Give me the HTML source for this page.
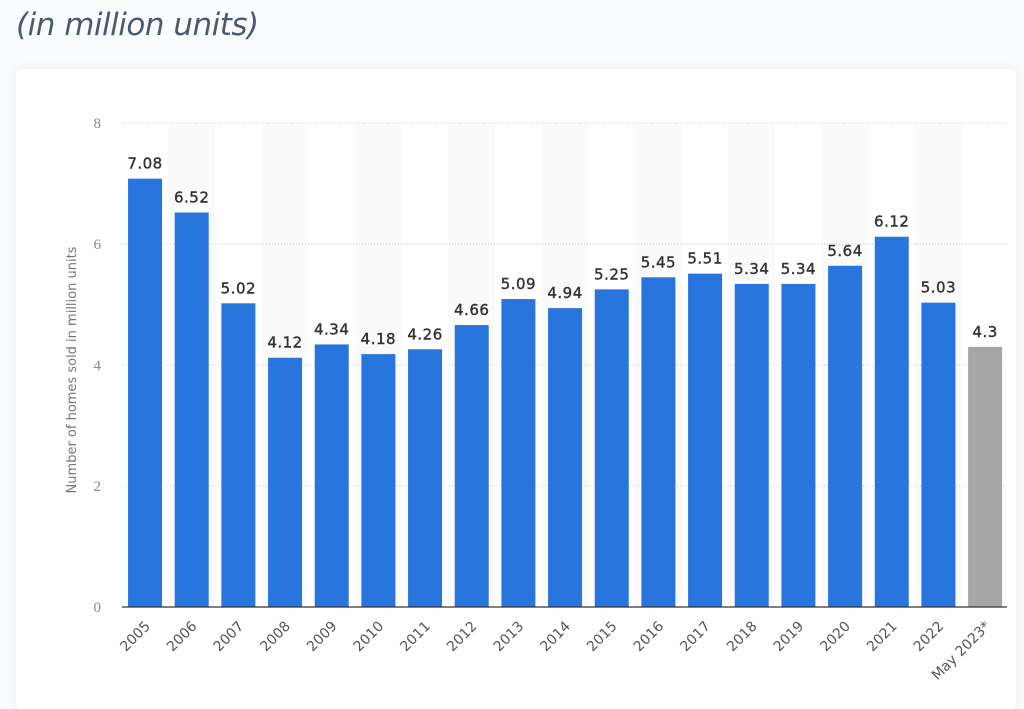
<!DOCTYPE html>
<html><head><style>
body{margin:0;width:1024px;height:695px;background:#fafbfc;overflow:hidden;font-family:"Liberation Sans",sans-serif}
.t{position:absolute;left:16px;top:7px;font-size:31px;font-style:italic;color:#4b5a72;font-family:"DejaVu Sans","Liberation Sans",sans-serif;letter-spacing:-0.5px}
.card{position:absolute;left:16px;top:69px;width:1000px;height:640px;background:#fff;border-radius:6px;box-shadow:0 0 12px rgba(0,0,0,0.05)}
svg{position:absolute;left:0;top:0}
</style></head><body>
<div class="t">(in million units)</div>
<div class="card"></div>
<svg width="1024" height="695" xmlns="http://www.w3.org/2000/svg">
<g id="g"></g>
</svg>
<script>
var vals=[7.08,6.52,5.02,4.12,4.34,4.18,4.26,4.66,5.09,4.94,5.25,5.45,5.51,5.34,5.34,5.64,6.12,5.03,4.3];
var labs=["2005","2006","2007","2008","2009","2010","2011","2012","2013","2014","2015","2016","2017","2018","2019","2020","2021","2022","May 2023*"];
var s='',x0=121.7,bw=46.67,y0=607,k=60.5;
for(var i=0;i<19;i++){if(i%2==1)s+='<rect x="'+(x0+i*bw)+'" y="123" width="'+bw+'" height="484" fill="#fafafa"/>';}
for(var v=0;v<=8;v+=2){var y=y0-v*k;if(v>0)s+='<line x1="122" x2="1007" y1="'+y+'" y2="'+y+'" stroke="#c8c8c8" stroke-dasharray="1,2"/>';
s+='<text x="101" y="'+(y+5)+'" font-family="Liberation Serif,serif" font-size="15" fill="#888" text-anchor="end">'+v+'</text>';}
for(var i=0;i<19;i++){var c=x0+i*bw+bw/2,h=vals[i]*k;
s+='<rect x="'+(c-17)+'" y="'+(y0-h)+'" width="34" height="'+h+'" fill="'+(i==18?'#a6a6a6':'#2876dd')+'"/>';
s+='<text x="'+c+'" y="'+(y0-h-10)+'" font-size="15" fill="#333" stroke="#333" stroke-width="0.4" text-anchor="middle" font-family="DejaVu Sans,Liberation Sans,sans-serif" letter-spacing="0.5">'+vals[i]+'</text>';
s+='<text transform="translate('+(c+6)+',627) rotate(-45)" font-size="14" fill="#555" text-anchor="end" font-family="DejaVu Sans,Liberation Sans,sans-serif">'+labs[i]+'</text>';}
s+='<line x1="122" x2="1007" y1="607" y2="607" stroke="#333" stroke-width="1.3"/>';
s+='<text transform="translate(76,370) rotate(-90)" font-size="13" fill="#777" text-anchor="middle" font-family="DejaVu Sans,Liberation Sans,sans-serif">Number of homes sold in million units</text>';
document.getElementById('g').innerHTML=s;
</script>
</body></html>
